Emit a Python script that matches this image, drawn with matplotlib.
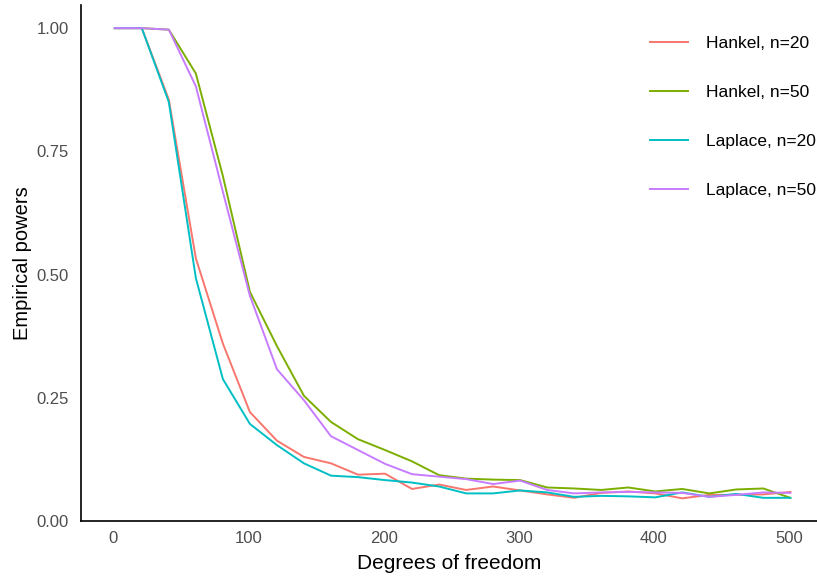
import numpy as np
import matplotlib
matplotlib.use("Agg")
import matplotlib.pyplot as plt

# degrees of freedom
df = list(range(1, 502, 20))

hankel_20 = [1.0, 1.0, 0.855, 0.533, 0.360, 0.221, 0.163, 0.130, 0.117, 0.094, 0.096, 0.065, 0.074,
             0.063, 0.070, 0.062, 0.054, 0.047, 0.057, 0.060, 0.056, 0.046, 0.053, 0.053, 0.054, 0.059]
hankel_50 = [1.0, 1.0, 0.997, 0.908, 0.700, 0.465, 0.355, 0.254, 0.201, 0.166, 0.144, 0.121, 0.093,
             0.086, 0.084, 0.083, 0.068, 0.066, 0.063, 0.068, 0.060, 0.065, 0.056, 0.064, 0.066, 0.047]
laplace_20 = [1.0, 1.0, 0.850, 0.493, 0.288, 0.197, 0.154, 0.117, 0.092, 0.089, 0.083, 0.078, 0.070,
              0.056, 0.056, 0.062, 0.058, 0.049, 0.051, 0.050, 0.048, 0.058, 0.049, 0.055, 0.047, 0.047]
laplace_50 = [1.0, 1.0, 0.997, 0.882, 0.668, 0.457, 0.308, 0.245, 0.172, 0.144, 0.116, 0.095, 0.090,
              0.085, 0.075, 0.082, 0.063, 0.056, 0.058, 0.059, 0.058, 0.057, 0.049, 0.053, 0.058, 0.057]

labels = ["Hankel, n=20", "Hankel, n=50", "Laplace, n=20", "Laplace, n=50"]
colors = ["#F8766D", "#7CAE00", "#00BFC4", "#C77CFF"]
series = [hankel_20, hankel_50, laplace_20, laplace_50]

plt.rcParams['font.family'] = ['Liberation Sans', 'DejaVu Sans']

fig = plt.figure(figsize=(8.17, 5.83), dpi=100)
ax = fig.add_axes([81 / 817, 62 / 583, 1 - 81 / 817, (521 - 5) / 583])

for y, lab, c in zip(series, labels, colors):
    ax.plot(df, y, color=c, lw=1.4, label=lab)

ax.set_xlim(-24, 520.7)
ax.set_ylim(0, 1.047)
ax.set_xticks([0, 100, 200, 300, 400, 500])
ax.set_yticks([0, 0.25, 0.5, 0.75, 1.0])
ax.set_yticklabels(["0.00", "0.25", "0.50", "0.75", "1.00"])
ax.tick_params(axis='both', length=0, labelsize=12, labelcolor='#4D4D4D')
ax.tick_params(axis='y', pad=9)
ax.tick_params(axis='x', pad=7)

for side in ['top', 'right']:
    ax.spines[side].set_visible(False)
for side in ['left', 'bottom']:
    ax.spines[side].set_linewidth(1.2)

ax.set_xlabel("Degrees of freedom", fontsize=15, labelpad=6)
ax.set_ylabel("Empirical powers", fontsize=14.5, labelpad=3)

ax.legend(loc='upper left', bbox_to_anchor=(650 / 817, (583 - 36) / 583), bbox_transform=fig.transFigure,
          frameon=False, fontsize=12.5, handlelength=2.2, handletextpad=1.0, labelspacing=1.95,
          borderaxespad=0.0, borderpad=0.0)

fig.savefig("out.png", dpi=100)
